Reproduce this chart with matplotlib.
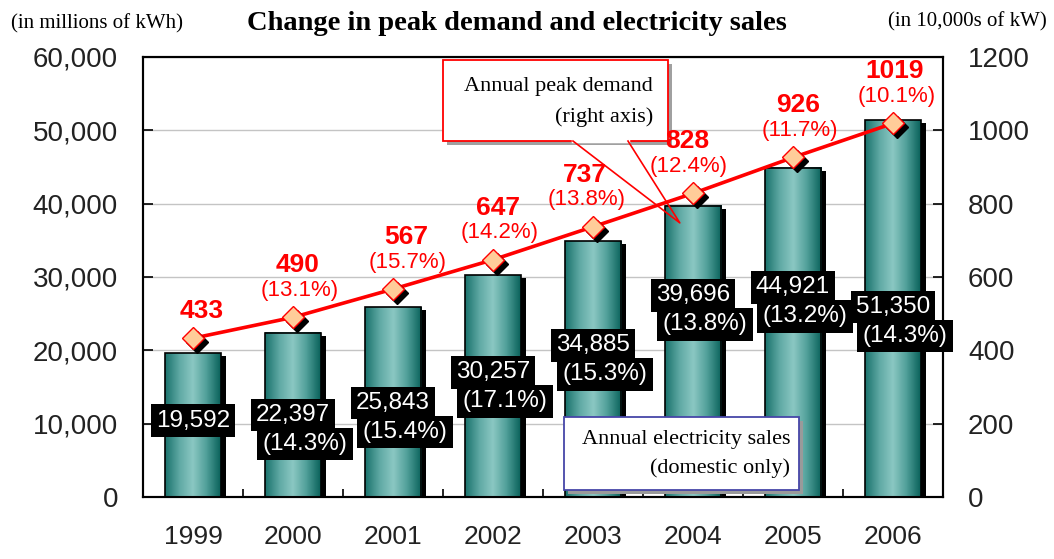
import numpy as np
import matplotlib
matplotlib.use("Agg")
import matplotlib.pyplot as plt
import matplotlib.transforms as mtransforms
from matplotlib.colors import LinearSegmentedColormap
from matplotlib.patches import Rectangle
from matplotlib.ticker import FuncFormatter, MultipleLocator

years = ["1999", "2000", "2001", "2002", "2003", "2004", "2005", "2006"]
sales = [19592, 22397, 25843, 30257, 34885, 39696, 44921, 51350]
sales_growth = [None, 14.3, 15.4, 17.1, 15.3, 13.8, 13.2, 14.3]
peak = [433, 490, 567, 647, 737, 828, 926, 1019]
peak_growth = [None, 13.1, 15.7, 14.2, 13.8, 12.4, 11.7, 10.1]

# label layout (left-axis units for the black boxes, pixel nudges for red labels)
sales_label_y = [10400, 11200, 12800, 17000, 20700, 27500, 28600, 25900]
peak_label_dx = [9, 5, 13, 5, -8, -6, 5, 2]

serif = "Liberation Serif"
sans = "Liberation Sans"

fig = plt.figure(figsize=(10.54, 5.59), dpi=100)
ax = fig.add_axes([143 / 1054, 62 / 559, 800 / 1054, 440 / 559])
ax2 = ax.twinx()

x = np.arange(len(years))
w = 0.56

# gradient teal bars with black drop shadow
teal = LinearSegmentedColormap.from_list(
    "teal", ["#1b736d", "#5ea8a3", "#8bc8c3", "#4f9e98", "#0a625b"])
grad = np.linspace(0, 1, 64).reshape(1, -1)
shadow = mtransforms.offset_copy(ax.transData, fig=fig, x=5, y=-3, units="dots")
ax.bar(x, sales, w, color="black", transform=shadow, zorder=2)
for xi, v in zip(x, sales):
    ax.imshow(grad, cmap=teal, extent=[xi - w / 2, xi + w / 2, 0, v],
              aspect="auto", interpolation="bilinear", zorder=3)
ax.bar(x, sales, w, fill=False, edgecolor="black", linewidth=1.2, zorder=4)

ax.set_xlim(-0.5, len(years) - 0.5)
ax.set_ylim(0, 60000)
ax2.set_ylim(0, 1200)

ax.yaxis.set_major_locator(MultipleLocator(10000))
ax.yaxis.set_major_formatter(FuncFormatter(lambda v, p: f"{int(v):,}"))
ax2.yaxis.set_major_locator(MultipleLocator(200))
ax.grid(axis="y", color="#c4c4c4", linewidth=1)
ax.set_axisbelow(True)

ax.set_xticks(x)
ax.set_xticklabels(years)
ax.set_xticks(x[:-1] + 0.5, minor=True)
ax.tick_params(axis="x", which="major", length=0, pad=20, labelsize=19,
               labelcolor="#222222")
ax.tick_params(axis="x", which="minor", direction="in", length=6, width=1.2)
ax.tick_params(axis="y", direction="in", length=7, width=1.2, pad=18,
               labelsize=20, labelcolor="#222222")
ax2.tick_params(axis="y", direction="in", length=7, width=1.2, pad=18,
                labelsize=20, labelcolor="#222222")
for a in (ax, ax2):
    for lab in a.get_xticklabels() + a.get_yticklabels():
        lab.set_family(sans)
    for s in a.spines.values():
        s.set_linewidth(1.5)

# peak demand line
dshadow = mtransforms.offset_copy(ax2.transData, fig=fig, x=4, y=-4, units="dots")
ax2.plot(x, peak, color="red", linewidth=2.6, zorder=5)
ax2.plot(x, peak, "D", markersize=11.5, color="black", transform=dshadow, zorder=5)
ax2.plot(x, peak, "D", markersize=11.5, markerfacecolor="#ffcc99",
         markeredgecolor="red", markeredgewidth=1, zorder=6)

for i, (v, g) in enumerate(zip(peak, peak_growth)):
    dy = 27 if g is None else 52
    ax2.annotate(str(v), (x[i], v), xytext=(peak_label_dx[i], dy),
                 textcoords="offset pixels", ha="center", va="center",
                 color="red", fontsize=19, fontweight="bold", family=sans, zorder=13)
    if g is not None:
        ax2.annotate(f"({g}%)", (x[i], v), xytext=(peak_label_dx[i] + 2, 27),
                     textcoords="offset pixels", ha="center", va="center",
                     color="red", fontsize=16, family=sans, zorder=13)

# sales labels in black boxes
box = dict(boxstyle="square,pad=0.22", facecolor="black", edgecolor="none")
for i, (v, g) in enumerate(zip(sales, sales_growth)):
    ax2.annotate(f"{v:,}", (x[i], sales_label_y[i]), xycoords=ax.transData,
                 ha="center", va="center", color="white", fontsize=17.5,
                 family=sans, bbox=box, zorder=8)
    if g is not None:
        ax2.annotate(f"({g}%)", (x[i], sales_label_y[i]), xycoords=ax.transData,
                     xytext=(12, -29), textcoords="offset pixels",
                     ha="center", va="center", color="white", fontsize=17.5,
                     family=sans, bbox=box, zorder=8)

# callout for peak demand
tA = ax2.transAxes
sh = mtransforms.offset_copy(tA, fig=fig, x=4, y=-4, units="dots")
b1 = (0.375, 0.809, 0.281, 0.184)
ax2.add_patch(Rectangle(b1[:2], b1[2], b1[3], transform=sh, facecolor="#a0a0a0",
                        edgecolor="none", zorder=9, clip_on=False))
ax2.add_patch(Rectangle(b1[:2], b1[2], b1[3], transform=tA, facecolor="white",
                        edgecolor="red", linewidth=1.3, zorder=10, clip_on=False))
ax2.plot([0.5375, 0.60625], [0.809, 0.809], color="white", linewidth=2.5,
         transform=tA, zorder=11)
ax2.plot([0.5375, 0.671, 0.60625], [0.809, 0.623, 0.809], color="red",
         linewidth=1.2, transform=tA, zorder=11)
ax2.text(0.6375, 0.934, "Annual peak demand", transform=tA, ha="right",
         va="center", fontsize=16, family=serif, zorder=12)
ax2.text(0.6375, 0.864, "(right axis)", transform=tA, ha="right",
         va="center", fontsize=16, family=serif, zorder=12)

# callout for electricity sales
b2 = (0.526, 0.016, 0.294, 0.166)
ax2.add_patch(Rectangle(b2[:2], b2[2], b2[3], transform=sh, facecolor="#9a9a9a",
                        edgecolor="none", zorder=9, clip_on=False))
ax2.add_patch(Rectangle(b2[:2], b2[2], b2[3], transform=tA, facecolor="white",
                        edgecolor="#4646a8", linewidth=1.3, zorder=10, clip_on=False))
ax2.text(0.809, 0.13, "Annual electricity sales", transform=tA, ha="right",
         va="center", fontsize=16, family=serif, zorder=12)
ax2.text(0.809, 0.066, "(domestic only)", transform=tA, ha="right",
         va="center", fontsize=16, family=serif, zorder=12)

fig.text(517 / 1054, 1 - 23 / 559, "Change in peak demand and electricity sales",
         ha="center", va="center", fontsize=20.5, fontweight="bold", family=serif)
fig.text(97 / 1054, 1 - 24 / 559, "(in millions of kWh)", ha="center",
         va="center", fontsize=15, family=serif)
fig.text(967 / 1054, 1 - 22 / 559, "(in 10,000s of kW)", ha="center",
         va="center", fontsize=15, family=serif)

fig.savefig("out.png", dpi=100)
